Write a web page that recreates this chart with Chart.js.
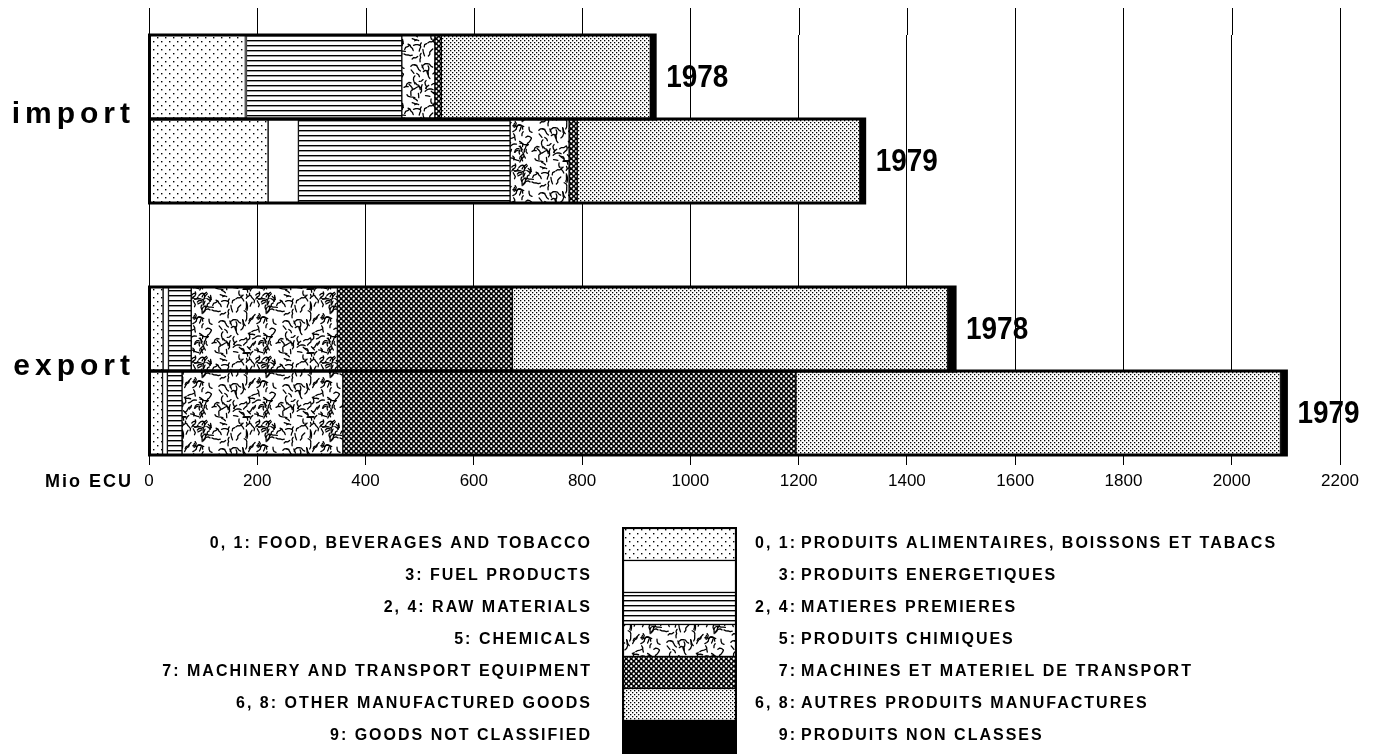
<!DOCTYPE html>
<html>
<head>
<meta charset="utf-8">
<script src="https://cdn.jsdelivr.net/npm/chart.js@4/dist/chart.umd.min.js"></script>
<style>
  html, body { margin: 0; padding: 0; background: #fff; }
  #wrap { width: 1378px; height: 756px; position: relative; }
</style>
</head>
<body>
<div id="wrap"><canvas id="chart"></canvas></div>
<script>
// rows of the chart (the empty one is the gap between import and export)
const rowGroups = ['import', 'import', '', 'export', 'export'];
const rowYears = ['1978', '1979', '', '1978', '1979'];

// Mio ECU
const food = [178, 220, null, 26, 25];
const fuel = [2, 56, null, 10, 9];
const rawMaterials = [287, 391, null, 42, 27];
const chemicals = [61, 109, null, 270, 297];
const machinery = [12, 15, null, 323, 837];
const otherManufactured = [386, 522, null, 804, 895];
const notClassified = [9, 9, null, 14, 11];

const xMin = 0, xMax = 2200, xStep = 200;

const codes = ['0, 1:', '3:', '2, 4:', '5:', '7:', '6, 8:', '9:'];
const namesEn = ['FOOD, BEVERAGES AND TOBACCO', 'FUEL PRODUCTS', 'RAW MATERIALS', 'CHEMICALS',
  'MACHINERY AND TRANSPORT EQUIPMENT', 'OTHER MANUFACTURED GOODS', 'GOODS NOT CLASSIFIED'];
const namesFr = ['PRODUITS ALIMENTAIRES, BOISSONS ET TABACS', 'PRODUITS ENERGETIQUES', 'MATIERES PREMIERES',
  'PRODUITS CHIMIQUES', 'MACHINES ET MATERIEL DE TRANSPORT', 'AUTRES PRODUITS MANUFACTURES', 'PRODUITS NON CLASSES'];

const canvas = document.getElementById('chart');
const ctx = canvas.getContext('2d');

// --- hatch patterns ---
function makePattern(w, h, draw, bg) {
  const c = document.createElement('canvas');
  c.width = w; c.height = h;
  const g = c.getContext('2d');
  g.fillStyle = bg || '#fff';
  g.fillRect(0, 0, w, h);
  g.fillStyle = '#000';
  g.strokeStyle = '#000';
  draw(g);
  return ctx.createPattern(c, 'repeat');
}

// fixed-seed generator, only used for the "chemicals" worm texture
function texSeed(seed) {
  let s = seed;
  return () => {
    s = (s * 1103515245 + 12345) % 2147483648;
    return s / 2147483648;
  };
}

const patFood = makePattern(8, 8, g => {
  g.fillRect(1, 1, 1.4, 1.4);
  g.fillRect(5, 5, 1.4, 1.4);
});
const patFuel = '#fff';
const patRaw = makePattern(5, 5, g => {
  g.fillRect(0, 0, 5, 1.4);
});
const patChem = makePattern(64, 64, g => {
  const rnd = texSeed(11);
  g.lineWidth = 1.3;
  g.lineCap = 'round';
  g.lineJoin = 'round';
  for (let k = 0; k < 120; k++) {
    let x = rnd() * 64, y = rnd() * 64;
    // mostly steep strokes, like the original screen
    let ang = -Math.PI / 2 + (rnd() - 0.5) * 2.4;
    const pts = [[x, y]];
    const n = 2 + Math.floor(rnd() * 3);
    for (let j = 0; j < n; j++) {
      ang += (rnd() - 0.5) * 1.8;
      x += Math.cos(ang) * 2.2;
      y += Math.sin(ang) * 2.2;
      pts.push([x, y]);
    }
    for (let ox = -64; ox <= 64; ox += 64) {
      for (let oy = -64; oy <= 64; oy += 64) {
        g.beginPath();
        g.moveTo(pts[0][0] + ox, pts[0][1] + oy);
        pts.slice(1).forEach(p => g.lineTo(p[0] + ox, p[1] + oy));
        g.stroke();
      }
    }
  }
});
const patMach = makePattern(5, 5, g => {
  g.fillStyle = '#fff';
  g.beginPath(); g.arc(1.25, 1.25, 1.15, 0, Math.PI * 2); g.fill();
  g.beginPath(); g.arc(3.75, 3.75, 1.15, 0, Math.PI * 2); g.fill();
}, '#000');
const patOther = makePattern(4, 4, g => {
  g.fillRect(0, 0, 1.3, 1.3);
  g.fillRect(2, 2, 1.3, 1.3);
});
const patNc = '#000';

const fills = [patFood, patFuel, patRaw, patChem, patMach, patOther, patNc];
const series = [food, fuel, rawMaterials, chemicals, machinery, otherManufactured, notClassified];

const LABEL_FONT = '"Liberation Sans", Arial, sans-serif';

// gridlines above the bars, bar outlines, year labels, group labels, legend
const decoPlugin = {
  id: 'deco',
  beforeDatasetsDraw(chart) {
    const c = chart.ctx, x = chart.scales.x, area = chart.chartArea;
    c.save();
    c.strokeStyle = '#000';
    c.lineWidth = 1;
    x.ticks.forEach(t => {
      const px = Math.round(x.getPixelForValue(t.value)) + 0.5;
      c.beginPath();
      c.moveTo(px, 8);
      c.lineTo(px, area.top);
      c.stroke();
    });
    c.restore();
  },
  afterDatasetsDraw(chart) {
    const c = chart.ctx;
    const first = chart.getDatasetMeta(0);
    const last = chart.getDatasetMeta(chart.data.datasets.length - 1);
    c.save();
    rowYears.forEach((yr, i) => {
      if (!yr) return;
      const a = first.data[i].getProps(['base', 'y', 'height'], true);
      const b = last.data[i].getProps(['x'], true);
      c.strokeStyle = '#000';
      c.lineWidth = 3;
      c.strokeRect(a.base, a.y - a.height / 2, b.x - a.base, a.height);
      // year label, slightly condensed
      c.save();
      c.translate(b.x + 11, a.y + 1);
      c.scale(0.9, 1);
      c.fillStyle = '#000';
      c.font = 'bold 31px ' + LABEL_FONT;
      c.textAlign = 'left';
      c.textBaseline = 'middle';
      c.fillText(yr, 0, 0);
      c.restore();
    });

    // group labels (import / export) on the boundary of their two rows
    c.fillStyle = '#000';
    c.font = 'bold 30px ' + LABEL_FONT;
    c.letterSpacing = '5px';
    c.textAlign = 'right';
    c.textBaseline = 'alphabetic';
    ['import', 'export'].forEach(name => {
      const idx = rowGroups.indexOf(name);
      const a = first.data[idx].getProps(['y', 'height'], true);
      c.fillText(name, 135, a.y + a.height / 2 + 4);
    });

    // axis unit
    c.font = 'bold 18px ' + LABEL_FONT;
    c.letterSpacing = '2px';
    c.textBaseline = 'middle';
    c.fillText('Mio ECU', 133, 482);
    c.restore();
  },
  afterDraw(chart) {
    const c = chart.ctx;
    const sx = 623, sw = 112, top = 528, rh = 32;
    c.save();
    for (let i = 0; i < fills.length; i++) {
      const y = top + i * rh;
      c.fillStyle = fills[i];
      c.fillRect(sx, y, sw, rh);
      c.strokeStyle = '#000';
      c.lineWidth = 1.2;
      c.strokeRect(sx + 0.5, y + 0.5, sw, rh);

      c.fillStyle = '#000';
      c.font = 'bold 16px ' + LABEL_FONT;
      c.letterSpacing = '2px';
      c.textBaseline = 'middle';
      c.textAlign = 'right';
      c.fillText(codes[i] + ' ' + namesEn[i], 592, y + 16);
      c.fillText(codes[i], 797, y + 16);
      c.textAlign = 'left';
      c.fillText(namesFr[i], 801, y + 16);
    }
    c.lineWidth = 2;
    c.strokeRect(sx, top, sw + 1, rh * fills.length + 1);
    c.restore();
  }
};

new Chart(ctx, {
  type: 'bar',
  data: {
    labels: rowYears,
    datasets: series.map((s, i) => ({
      label: namesEn[i],
      data: s,
      backgroundColor: fills[i],
      borderColor: '#000',
      borderWidth: 1,
      borderSkipped: false,
      barPercentage: 1,
      categoryPercentage: 1
    }))
  },
  options: {
    indexAxis: 'y',
    responsive: true,
    maintainAspectRatio: false,
    animation: false,
    layout: { padding: { left: 149, right: 38, top: 35, bottom: 266 } },
    plugins: { legend: { display: false }, tooltip: { enabled: false } },
    scales: {
      x: {
        stacked: true,
        min: xMin,
        max: xMax,
        afterFit: scale => { scale.height = 35; },
        border: { display: false },
        grid: { color: '#000', lineWidth: 1, drawTicks: true, tickLength: 10, tickColor: '#000' },
        ticks: {
          stepSize: xStep,
          autoSkip: false,
          maxRotation: 0,
          padding: 6,
          color: '#000',
          font: { family: LABEL_FONT, size: 17 },
          callback: v => String(v)
        }
      },
      y: {
        stacked: true,
        display: false
      }
    }
  },
  plugins: [decoPlugin]
});
</script>
</body>
</html>
